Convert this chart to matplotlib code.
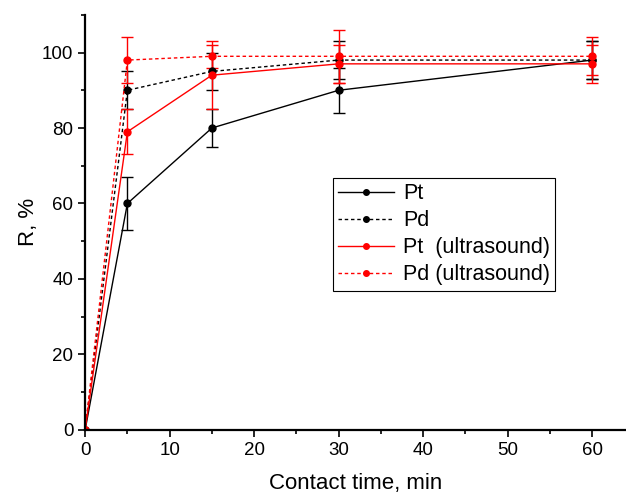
import matplotlib.pyplot as plt
from matplotlib.ticker import MultipleLocator

plt.switch_backend('Agg')
plt.rcParams['font.family'] = ['Liberation Sans', 'DejaVu Sans']

# 接触时间 (min)
time = [0, 5, 15, 30, 60]

pt = [0, 60, 80, 90, 98]
pt_err = [0, 7, 5, 6, 5]
pd = [0, 90, 95, 98, 98]
pd_err = [0, 5, 5, 5, 5]
pt_us = [0, 79, 94, 97, 97]
pt_us_err = [0, 6, 9, 5, 5]
pd_us = [0, 98, 99, 99, 99]
pd_us_err = [0, 6, 3, 7, 5]

series = [
    (pt, pt_err, 'black', '-', 'Pt'),
    (pd, pd_err, 'black', (0, (2.5, 2)), 'Pd'),
    (pt_us, pt_us_err, 'red', '-', 'Pt  (ultrasound)'),
    (pd_us, pd_us_err, 'red', (0, (2.5, 2)), 'Pd (ultrasound)'),
]

fig = plt.figure(figsize=(6.26, 4.93), dpi=100)
ax = fig.add_axes([0.136, 0.128, 0.864, 0.842])

handles = []
for vals, errs, color, ls, label in series:
    cont = ax.errorbar(time, vals, yerr=errs, color=color, linestyle=ls, linewidth=1,
                       marker='o', markersize=5, capsize=4, elinewidth=1, capthick=1,
                       label=label)
    handles.append(cont[0])

ax.set_xlim(0, 64)
ax.set_ylim(0, 110)
ax.xaxis.set_major_locator(MultipleLocator(10))
ax.xaxis.set_minor_locator(MultipleLocator(5))
ax.yaxis.set_major_locator(MultipleLocator(20))
ax.yaxis.set_minor_locator(MultipleLocator(10))
ax.tick_params(which='major', direction='out', length=5, width=1.2, labelsize=13.5)
ax.tick_params(which='minor', direction='out', length=3, width=1.2)

ax.spines['top'].set_visible(False)
ax.spines['right'].set_visible(False)
ax.spines['left'].set_linewidth(1.6)
ax.spines['bottom'].set_linewidth(1.6)

ax.set_xlabel('Contact time, min', fontsize=16, labelpad=10)
ax.set_ylabel('R, %', fontsize=16, labelpad=2)

# 图例 (只显示线和点)
leg = ax.legend(handles, [s[4] for s in series], loc='upper left',
                bbox_to_anchor=(0.458, 0.607), fontsize=15.5, frameon=True,
                fancybox=False, framealpha=1, edgecolor='black',
                handlelength=2.6, borderpad=0.25, labelspacing=0.28,
                handletextpad=0.4, borderaxespad=0, markerscale=0.8)
leg.get_frame().set_linewidth(0.8)

fig.savefig('out.png', dpi=100, facecolor='white')
plt.close(fig)
